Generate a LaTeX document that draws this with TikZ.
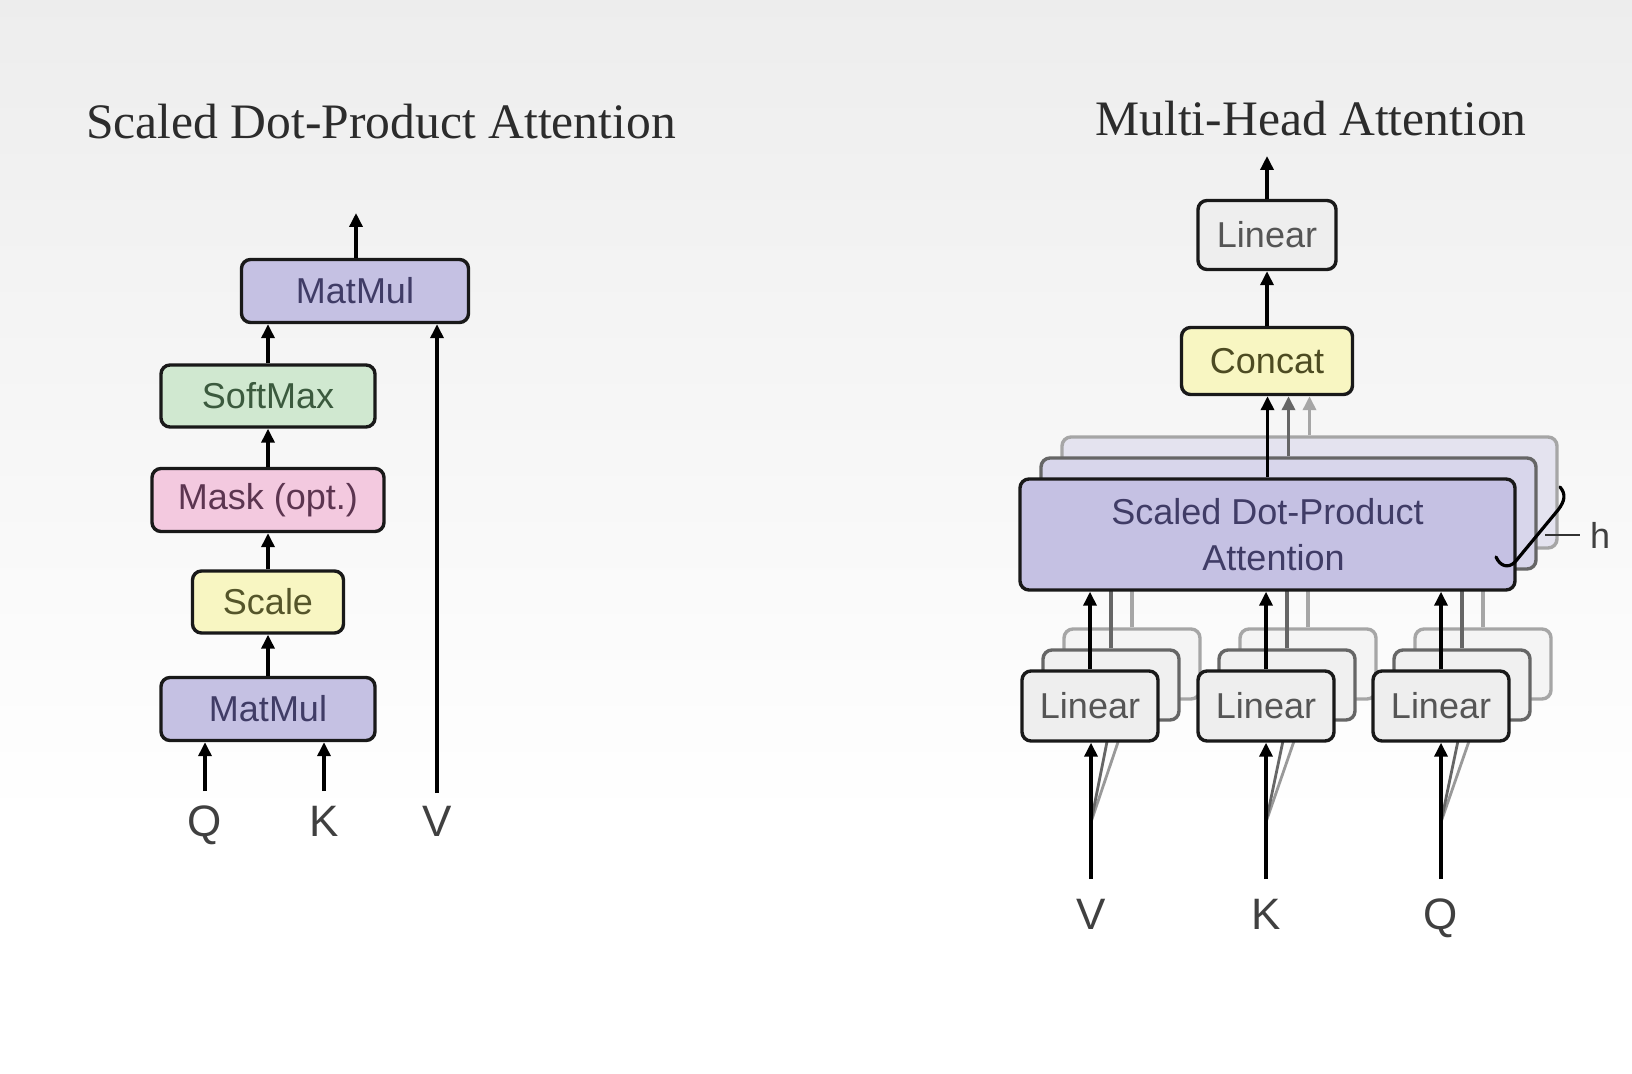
\documentclass[tikz,border=0pt]{standalone}
\usepackage{fontspec}
\setmainfont{Liberation Serif}
\newfontfamily\boxfont{Liberation Sans}
\usetikzlibrary{arrows.meta}
\definecolor{purpf}{HTML}{C5C1E3}
\definecolor{purpB}{HTML}{D8D6EB}
\definecolor{purpC}{HTML}{E4E3EF}
\definecolor{greenf}{HTML}{D0E8D0}
\definecolor{pinkf}{HTML}{F3C9DF}
\definecolor{yellf}{HTML}{F8F6C2}
\definecolor{grayf}{HTML}{EEEEEE}
\definecolor{grayB}{HTML}{F0F0F0}
\definecolor{grayC}{HTML}{F4F4F4}
\definecolor{txtP}{HTML}{403C66}
\definecolor{txtG}{HTML}{3B5A3E}
\definecolor{txtM}{HTML}{5C3550}
\definecolor{txtY}{HTML}{55552A}
\definecolor{txtL}{HTML}{555555}
\definecolor{txtC}{HTML}{4D4B22}
\definecolor{ttl}{HTML}{2C2C2C}
\tikzset{
  box/.style={draw=black!90, line width=1.7pt, rounded corners=4.5pt, inner sep=0pt,
    font=\boxfont\fontsize{18}{23}\selectfont, align=center},
  boxB/.style={box, draw=black!60},
  boxC/.style={box, draw=black!35},
  arr/.style={line width=1.7pt, black, -{Triangle[length=7pt,width=6.5pt]}},
  arrB/.style={arr, black!60},
  arrC/.style={arr, black!35},
  lnB/.style={line width=1.7pt, black!60},
  lnC/.style={line width=1.7pt, black!35},
  diagB/.style={line width=1.4pt, black!60, -{Triangle[length=5pt,width=4pt]}},
  diagC/.style={line width=1.4pt, black!40, -{Triangle[length=5pt,width=4pt]}},
  ttlstyle/.style={font=\fontsize{24.8}{28}\selectfont, text=ttl},
  inlabel/.style={font=\boxfont\fontsize{22}{24}\selectfont, text=black!75, anchor=base, inner sep=0pt},
  lin/.style={minimum width=68pt, minimum height=35pt, text=txtL}
}
\begin{document}
\begin{tikzpicture}[x=0.5pt, y=-0.5pt]
\useasboundingbox (0,0) rectangle (1632,1074);
\fill[white] (0,0) rectangle (1632,1074);
\shade[top color=black!7, bottom color=white] (0,0) rectangle (1632,820);

% ---------- Left: Scaled Dot-Product Attention ----------
\node[ttlstyle] (tl) at (381,122) {Scaled Dot-Product Attention};
\node[box, fill=purpf, text=txtP, minimum width=113.5pt, minimum height=31.5pt] (mm2) at (355,291) {MatMul};
\node[box, fill=greenf, text=txtG, minimum width=107pt, minimum height=31pt] (sm) at (268,396) {SoftMax};
\node[box, fill=pinkf, text=txtM, minimum width=116pt, minimum height=31.5pt] (mask) at (268,500) {Mask (opt.)};
\node[box, fill=yellf, text=txtY, minimum width=75.5pt, minimum height=31pt] (scale) at (268,602) {Scale};
\node[box, fill=purpf, text=txtP, minimum width=107pt, minimum height=31.5pt] (mm1) at (268,709) {MatMul};
\node[inlabel] (lq) at (205,836) {Q};
\node[inlabel] (lk) at (324,836) {K};
\node[inlabel] (lv) at (437,836) {V};
\coordinate (qs) at (205,791);
\coordinate (ks) at (324,791);
\coordinate (vs) at (437,793);
\coordinate (outl) at (356,213);
\draw[arr] (mm2.north -| outl) -- (outl);
\draw[arr] (sm.north) -- (sm.north |- mm2.south);
\draw[arr] (mask.north) -- (sm.south);
\draw[arr] (scale.north) -- (mask.south);
\draw[arr] (mm1.north) -- (scale.south);
\draw[arr] (qs) -- (qs |- mm1.south);
\draw[arr] (ks) -- (ks |- mm1.south);
\draw[arr] (vs) -- (vs |- mm2.south);

% ---------- Right: Multi-Head Attention ----------
\node[ttlstyle] (tr) at (1311,119) {Multi-Head Attention};
\node[box, fill=grayf, lin, minimum width=69pt, minimum height=34.5pt] (lout) at (1267,235) {Linear};
\node[box, fill=yellf, text=txtC, minimum width=85.5pt, minimum height=33.5pt] (concat) at (1267,361) {Concat};
\coordinate (outr) at (1267,156);
\draw[arr] (lout.north) -- (outr);
\draw[arr] (concat.north) -- (lout.south);

% level C (back)
\node[boxC, fill=purpC, minimum width=247.5pt, minimum height=55.5pt] (sdpaC) at (1309.5,492.5) {};
\node[boxC, fill=grayC, lin] (lvC) at (1132,664) {};
\node[boxC, fill=grayC, lin] (lkC) at (1308,664) {};
\node[boxC, fill=grayC, lin] (lqC) at (1483,664) {};
\draw[arrC] (sdpaC.north) -- (sdpaC.north |- concat.south);
\draw[lnC] (lvC.north) -- (lvC.north |- sdpaC.south);
\draw[lnC] (lkC.north) -- (lkC.north |- sdpaC.south);
\draw[lnC] (lqC.north) -- (lqC.north |- sdpaC.south);

% level B (middle)
\node[boxB, fill=purpB, minimum width=247.5pt, minimum height=55.5pt] (sdpaB) at (1288.5,513.5) {};
\node[boxB, fill=grayB, lin] (lvB) at (1111,685) {};
\node[boxB, fill=grayB, lin] (lkB) at (1287,685) {};
\node[boxB, fill=grayB, lin] (lqB) at (1462,685) {};
\draw[arrB] (sdpaB.north) -- (sdpaB.north |- concat.south);
\draw[lnB] (lvB.north) -- (lvB.north |- sdpaB.south);
\draw[lnB] (lkB.north) -- (lkB.north |- sdpaB.south);
\draw[lnB] (lqB.north) -- (lqB.north |- sdpaB.south);

% input diagonals to back linears
\coordinate (vin) at (1091,879);
\coordinate (kin) at (1266,879);
\coordinate (qin) at (1441,879);
\coordinate (vd) at (1091,822);
\coordinate (kd) at (1266,822);
\coordinate (qd) at (1441,822);
\draw[diagC] (vd) -- (lvC.south);
\draw[diagC] (kd) -- (lkC.south);
\draw[diagC] (qd) -- (lqC.south);
\draw[diagB] (vd) -- (lvB.south);
\draw[diagB] (kd) -- (lkB.south);
\draw[diagB] (qd) -- (lqB.south);

% level A (front)
\node[box, fill=purpf, text=txtP, minimum width=247.5pt, minimum height=55.5pt] (sdpaA) at (1267.5,534.5) {Scaled Dot-Product\\\hspace*{6pt}Attention};
\node[box, fill=grayf, lin] (lvA) at (1090,706) {Linear};
\node[box, fill=grayf, lin] (lkA) at (1266,706) {Linear};
\node[box, fill=grayf, lin] (lqA) at (1441,706) {Linear};
\draw[arr] (sdpaA.north) -- (sdpaA.north |- concat.south);
\draw[arr] (lvA.north) -- (lvA.north |- sdpaA.south);
\draw[arr] (lkA.north) -- (lkA.north |- sdpaA.south);
\draw[arr] (lqA.north) -- (lqA.north |- sdpaA.south);
\draw[arr] (vin) -- (vin |- lvA.south);
\draw[arr] (kin) -- (kin |- lkA.south);
\draw[arr] (qin) -- (qin |- lqA.south);
\node[inlabel] (rv) at (1091,929) {V};
\node[inlabel] (rk) at (1266,929) {K};
\node[inlabel] (rq) at (1441,929) {Q};

% h bracket
\draw[line width=1.6pt, line cap=round] (1496,557) .. controls (1500,566) and (1508,569) .. (1515,562)
  -- (1558,510) .. controls (1565,501) and (1566,494) .. (1560,487);
\draw[line width=1.3pt, black!80] (1545,535) -- (1580,535);
\node[font=\boxfont\fontsize{18}{20}\selectfont, text=black!75] (hl) at (1600,535) {h};
\end{tikzpicture}
\end{document}
